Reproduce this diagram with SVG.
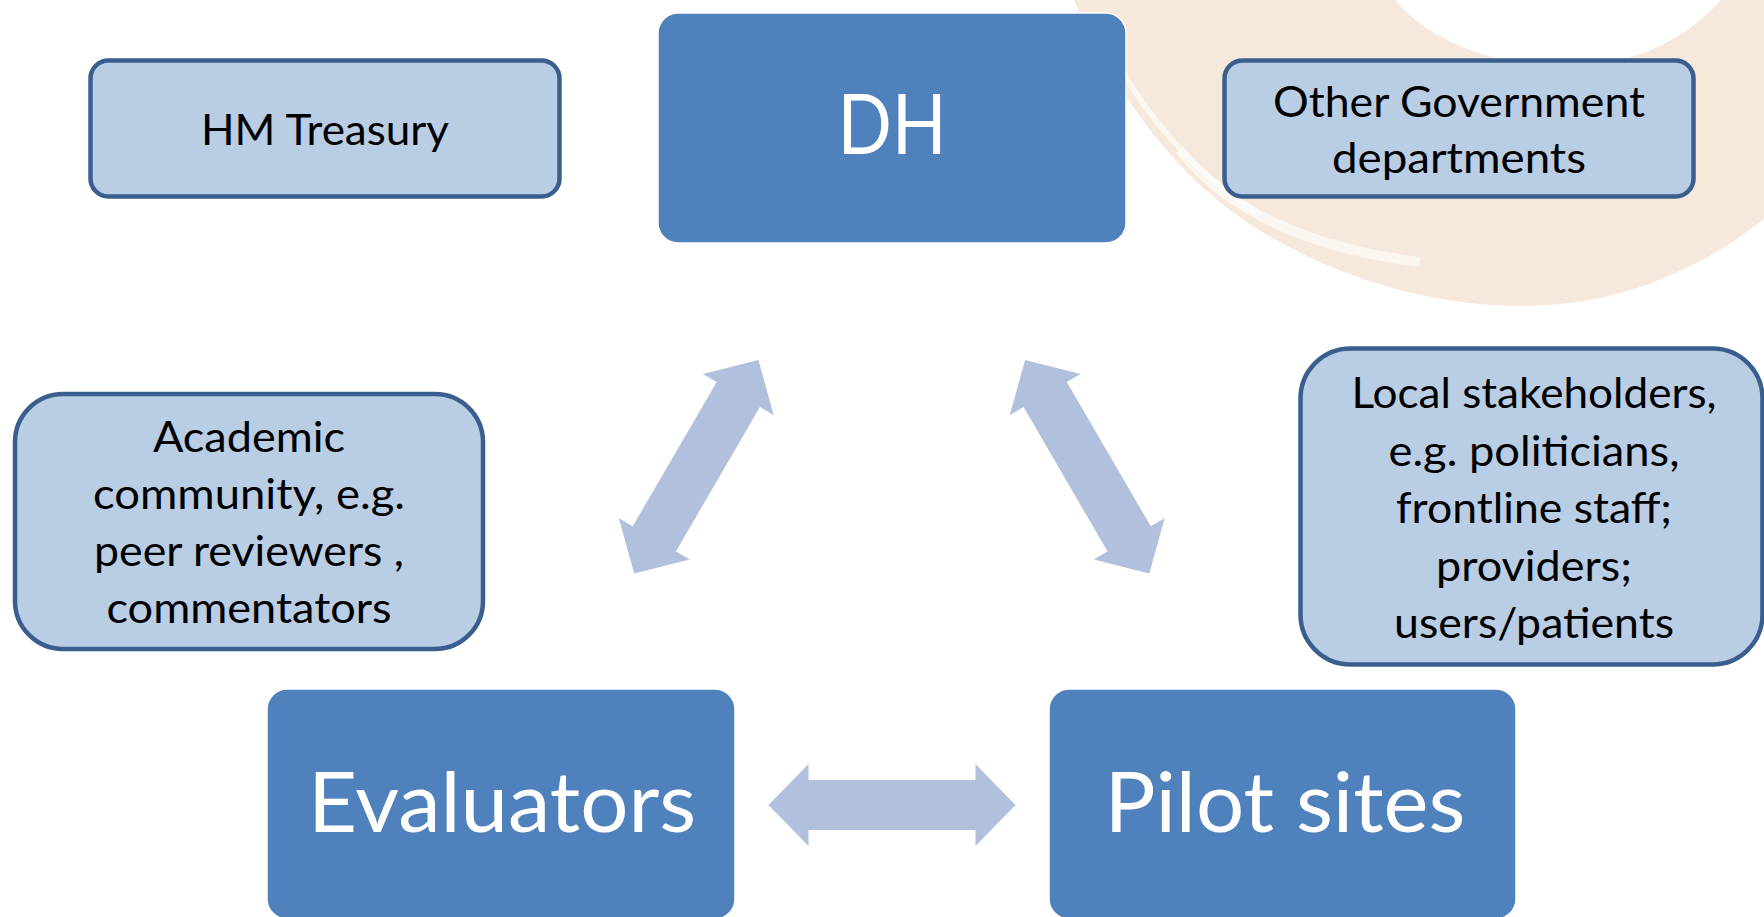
<svg xmlns="http://www.w3.org/2000/svg" width="1764" height="917" viewBox="0 0 1764 917">
<style>
.light rect{fill:#B9CDE5;stroke:#3A5F8E;stroke-width:4.5}
.dark rect{fill:#4F81BD;stroke:#FFFFFF;stroke-width:1.5}
.lt{font-family:Lato,"Open Sans","DejaVu Sans",sans-serif;font-size:43px;fill:#000;text-anchor:middle}
.dt{font-family:Lato,"Open Sans","DejaVu Sans",sans-serif;font-size:83px;fill:#FFFFFF;text-anchor:middle}
.arrow{fill:#B1C1DD}
</style>
<defs>
<polygon id="dbl" points="-123.5,0 -83.5,-41 -83.5,-25 83.5,-25 83.5,-41 123.5,0 83.5,41 83.5,25 -83.5,25 -83.5,41"/>
</defs>
<rect width="1764" height="917" fill="#FFFFFF"/>
<g id="background" fill="#F6E8DA">
<path d="M1074,0 C1100,60 1150,150 1230,210 C1310,270 1420,306 1520,306 C1620,306 1700,270 1764,219 L1764,0 Z"/>
<path d="M1395,0 C1420,30 1470,62 1560,68 C1640,66 1690,35 1721,0 Z" fill="#FFFFFF"/>
<path d="M1180,150 C1230,215 1320,250 1420,262" fill="none" stroke="#FFFFFF" stroke-width="10" opacity="0.6"/>
<path d="M1105,40 C1140,110 1190,170 1260,215" fill="none" stroke="#FFFFFF" stroke-width="6" opacity="0.6"/>
<path d="M1640,290 C1690,270 1730,250 1764,230" fill="none" stroke="#FFFFFF" stroke-width="5" opacity="0.6"/>
</g>
<g id="connectors">
<use href="#dbl" class="arrow" transform="translate(696.3,466.7) rotate(-59.8)"/>
<use href="#dbl" class="arrow" transform="translate(1087.2,466.7) rotate(59.8)"/>
<use href="#dbl" class="arrow" transform="translate(892,805)"/>
</g>
<g id="dh" class="dark">
<rect x="658" y="13" width="468" height="230" rx="20"/>
<text class="dt" x="892" y="154" textLength="109" lengthAdjust="spacingAndGlyphs">DH</text>
</g>
<g id="evaluators" class="dark">
<rect x="267" y="689" width="468" height="230" rx="20"/>
<text class="dt" x="502" y="832" textLength="388" lengthAdjust="spacingAndGlyphs">Evaluators</text>
</g>
<g id="pilot-sites" class="dark">
<rect x="1049" y="689" width="467" height="230" rx="20"/>
<text class="dt" x="1285" y="832" textLength="361" lengthAdjust="spacingAndGlyphs">Pilot sites</text>
</g>
<g id="hm-treasury" class="light">
<rect x="90.5" y="60.5" width="469" height="136" rx="18"/>
<text class="lt" x="325" y="145" textLength="248" lengthAdjust="spacingAndGlyphs">HM Treasury</text>
</g>
<g id="other-government" class="light">
<rect x="1224.5" y="60.5" width="469" height="136" rx="18"/>
<text class="lt" x="1459" y="117" textLength="372" lengthAdjust="spacingAndGlyphs">Other Government</text>
<text class="lt" x="1459" y="173" textLength="254" lengthAdjust="spacingAndGlyphs">departments</text>
</g>
<g id="academic" class="light">
<rect x="15" y="394" width="468" height="255" rx="48"/>
<text class="lt" x="249" y="452" textLength="192" lengthAdjust="spacingAndGlyphs">Academic</text>
<text class="lt" x="249" y="509" textLength="312" lengthAdjust="spacingAndGlyphs">community, e.g.</text>
<text class="lt" x="249" y="566" textLength="310" lengthAdjust="spacingAndGlyphs">peer reviewers ,</text>
<text class="lt" x="249" y="623" textLength="285" lengthAdjust="spacingAndGlyphs">commentators</text>
</g>
<g id="local-stakeholders" class="light">
<rect x="1300.5" y="348.5" width="462" height="316" rx="50"/>
<text class="lt" x="1534" y="408" textLength="365" lengthAdjust="spacingAndGlyphs">Local stakeholders,</text>
<text class="lt" x="1534" y="465.5" textLength="291" lengthAdjust="spacingAndGlyphs">e.g. politicians,</text>
<text class="lt" x="1534" y="523" textLength="276" lengthAdjust="spacingAndGlyphs">frontline staff;</text>
<text class="lt" x="1534" y="580.5" textLength="196" lengthAdjust="spacingAndGlyphs">providers;</text>
<text class="lt" x="1534" y="638" textLength="280" lengthAdjust="spacingAndGlyphs">users/patients</text>
</g>
</svg>
